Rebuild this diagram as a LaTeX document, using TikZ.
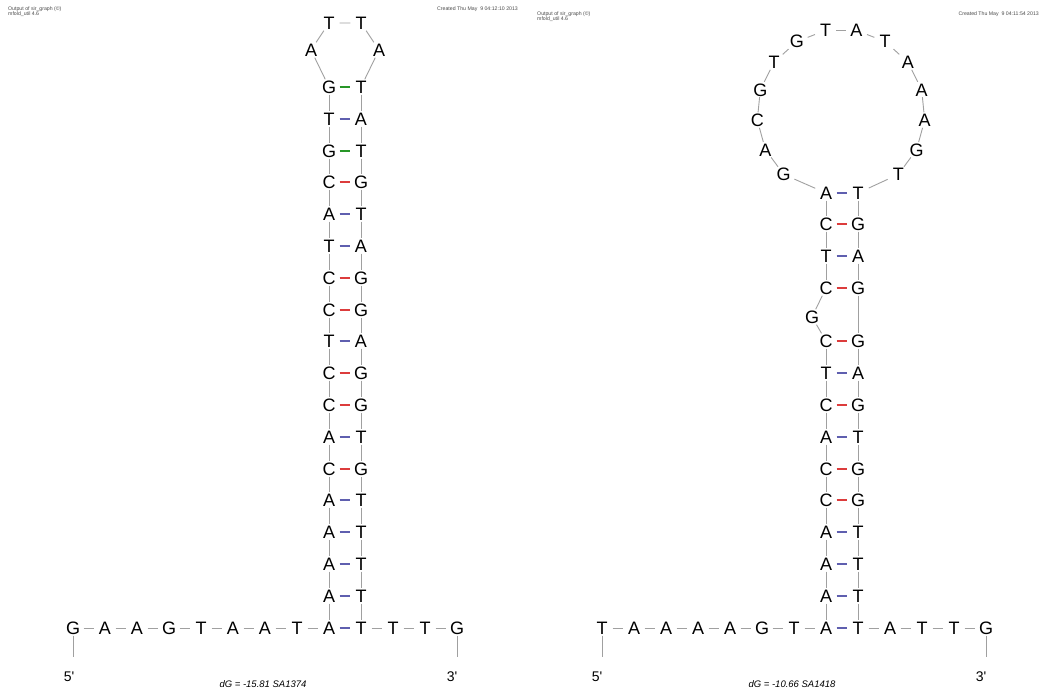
\documentclass[tikz,border=0pt]{standalone}
\usepackage{fontspec}
\setmainfont{Liberation Sans}
\definecolor{bbgray}{RGB}{160,160,160}
\definecolor{pairred}{RGB}{220,60,60}
\definecolor{pairblue}{RGB}{95,95,175}
\definecolor{pairgreen}{RGB}{40,150,40}
\tikzset{
  nt/.style={font=\fontsize{18}{18}\selectfont, inner sep=0pt, text height=13pt, text depth=0pt, minimum width=21pt, minimum height=15pt},
  bb/.style={draw=bbgray, line width=0.9pt},
  pat/.style={draw=pairblue, line width=1.3pt},
  pcg/.style={draw=pairred, line width=1.3pt},
  pgt/.style={draw=pairgreen, line width=1.3pt},
  endlbl/.style={font=\fontsize{14}{14}\selectfont, inner sep=0pt},
  dglbl/.style={font=\fontsize{9.5}{9.5}\selectfont\itshape, inner sep=0pt},
  hdr/.style={font=\fontsize{5.2}{5.4}\selectfont, text=black!70, inner sep=0pt}
}
\begin{document}
\begin{tikzpicture}[x=1pt,y=-1pt]
\useasboundingbox[fill=white] (0,0) rectangle (1045,691);

% ---------- headers ----------
\node[hdr, anchor=west] (h1l) at (8,9.5) {Output of sir\_graph (©)};
\node[hdr, anchor=west] (h2l) at (8,14.5) {mfold\_util 4.6};
\node[hdr, anchor=west] (h3l) at (437,9.5) {Created Thu May\ \ 9 04:12:10 2013};
\node[hdr, anchor=west] (h1r) at (537,14) {Output of sir\_graph (©)};
\node[hdr, anchor=west] (h2r) at (537,19) {mfold\_util 4.6};
\node[hdr, anchor=east] (h3r) at (1039,14) {Created Thu May\ \ 9 04:11:54 2013};

% ================= LEFT STRUCTURE =================
% bottom row
\foreach \l [count=\k from 0] in {G,A,A,G,T,A,A,T,A,T,T,T,G}
  \node[nt] (a\k) at (73+32*\k,628) {\l};
\foreach \k in {0,...,7,9,10,11} {
  \pgfmathtruncatemacro\kk{\k+1}
  \draw[bb] (a\k) -- (a\kk);
}
\draw[pat] (a8) -- (a9);
% stem
\foreach \a/\b/\pc [count=\i from 0] in {G/T/pgt,T/A/pat,G/T/pgt,C/G/pcg,A/T/pat,T/A/pat,C/G/pcg,C/G/pcg,T/A/pat,C/G/pcg,C/G/pcg,A/T/pat,C/G/pcg,A/T/pat,A/T/pat,A/T/pat,A/T/pat} {
  \pgfmathtruncatemacro\yy{round(87+31.8*\i)}
  \node[nt] (L\i) at (329,\yy) {\a};
  \node[nt] (R\i) at (361,\yy) {\b};
  \draw[\pc] (L\i) -- (R\i);
}
\foreach \i in {0,...,15} {
  \pgfmathtruncatemacro\j{\i+1}
  \draw[bb] (L\i) -- (L\j);
  \draw[bb] (R\i) -- (R\j);
}
\draw[bb] (L16) -- (a8);
\draw[bb] (R16) -- (a9);
% hairpin loop
\node[nt] (hA1) at (311,50) {A};
\node[nt] (hT1) at (329,23) {T};
\node[nt] (hT2) at (361,23) {T};
\node[nt] (hA2) at (379,50) {A};
\draw[bb] (L0) -- (hA1) -- (hT1) -- (hT2) -- (hA2) -- (R0);
% ends
\coordinate (t5L) at (73,657);
\coordinate (t3L) at (457,657);
\draw[bb] (a0) -- (t5L);
\draw[bb] (a12) -- (t3L);
\node[endlbl] (e5L) at (69,677) {5\textquotesingle};
\node[endlbl] (e3L) at (452,677) {3\textquotesingle};
\node[dglbl] (dgL) at (263,684) {dG = -15.81 SA1374};

% ================= RIGHT STRUCTURE =================
\foreach \l [count=\k from 0] in {T,A,A,A,A,G,T,A,T,A,T,T,G}
  \node[nt] (b\k) at (602+32*\k,628) {\l};
\foreach \k in {0,...,6,8,9,10,11} {
  \pgfmathtruncatemacro\kk{\k+1}
  \draw[bb] (b\k) -- (b\kk);
}
\draw[pat] (b7) -- (b8);
% lower stem
\foreach \a/\b/\pc [count=\i from 0] in {C/G/pcg,T/A/pat,C/G/pcg,A/T/pat,C/G/pcg,C/G/pcg,A/T/pat,A/T/pat,A/T/pat} {
  \pgfmathtruncatemacro\yy{round(341.4+31.8*\i)}
  \node[nt] (P\i) at (826,\yy) {\a};
  \node[nt] (Q\i) at (858,\yy) {\b};
  \draw[\pc] (P\i) -- (Q\i);
}
\foreach \i in {0,...,7} {
  \pgfmathtruncatemacro\j{\i+1}
  \draw[bb] (P\i) -- (P\j);
  \draw[bb] (Q\i) -- (Q\j);
}
\draw[bb] (P8) -- (b7);
\draw[bb] (Q8) -- (b8);
% upper stem
\foreach \a/\b/\pc [count=\i from 0] in {A/T/pat,C/G/pcg,T/A/pat,C/G/pcg} {
  \pgfmathtruncatemacro\yy{round(192.6+31.8*\i)}
  \node[nt] (U\i) at (826,\yy) {\a};
  \node[nt] (V\i) at (858,\yy) {\b};
  \draw[\pc] (U\i) -- (V\i);
}
\foreach \i in {0,1,2} {
  \pgfmathtruncatemacro\j{\i+1}
  \draw[bb] (U\i) -- (U\j);
  \draw[bb] (V\i) -- (V\j);
}
% bulge
\node[nt] (bg) at (812,317) {G};
\draw[bb] (U3) -- (bg) -- (P0);
\draw[bb] (V3) -- (Q0);
% hairpin loop (circle centre 841,113, radius 84)
\foreach \l [count=\i from 0] in {G,A,C,G,T,G,T,A,T,A,A,A,G,T} {
  \pgfmathsetmacro\ang{227-21.0769*\i}
  \node[nt] (o\i) at ({841+84*cos(\ang)},{113-84*sin(\ang)}) {\l};
}
\foreach \i in {0,...,12} {
  \pgfmathtruncatemacro\j{\i+1}
  \draw[bb] (o\i) -- (o\j);
}
\draw[bb] (U0) -- (o0);
\draw[bb] (o13) -- (V0);
% ends
\coordinate (t5R) at (602,657);
\coordinate (t3R) at (986,657);
\draw[bb] (b0) -- (t5R);
\draw[bb] (b12) -- (t3R);
\node[endlbl] (e5R) at (597,677) {5\textquotesingle};
\node[endlbl] (e3R) at (981,677) {3\textquotesingle};
\node[dglbl] (dgR) at (792,684) {dG = -10.66 SA1418};
\end{tikzpicture}
\end{document}
